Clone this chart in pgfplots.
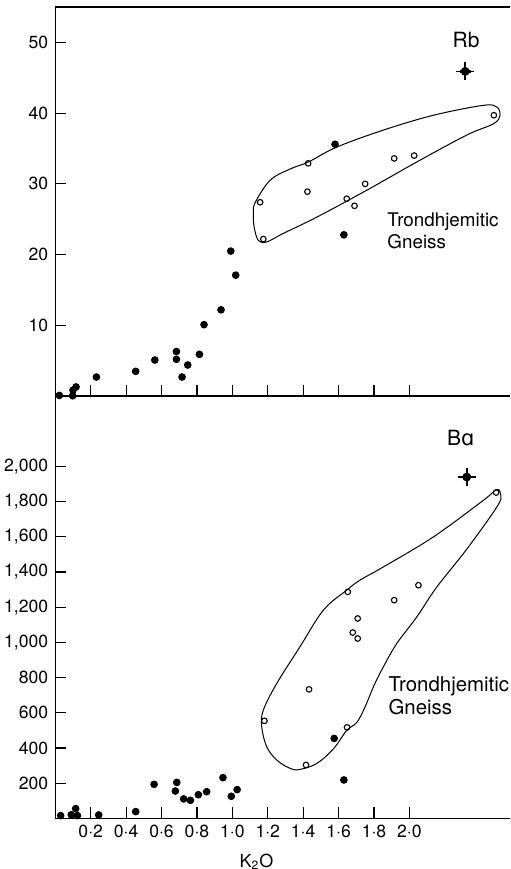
\documentclass[border=0pt]{standalone}
\usepackage{fontspec}
\setmainfont{TeX Gyre Heros}
\newfontfamily\dejavu{DejaVu Sans}
\usepackage{pgfplots}
\pgfplotsset{compat=1.18}

\pgfplotsset{
  panel/.style={
    scale only axis, width=227.5pt,
    xmin=0, xmax=2.571,
    axis x line*=bottom, axis y line*=left,
    axis line style={-, line width=0.65pt},
    tick align=inside, major tick length=5.5pt,
    tick style={line width=0.6pt, black},
    xtick={0.2,0.4,0.6,0.8,1.0,1.2,1.4,1.6,1.8,2.0},
    clip=false,
    tick label style={font=\fontsize{8.8}{10}\selectfont},
    /pgf/number format/assume math mode=true,
  },
  filled/.style={only marks, mark=*, mark size=1.7pt, black, mark options={fill=black}},
  open/.style={only marks, mark=o, mark size=1.4pt, black, mark options={line width=0.55pt}},
  envelope/.style={smooth cycle, no marks, line width=0.5pt, black, tension=0.6},
  errcross/.style={black, only marks, mark=none,
    error bars/.cd, x dir=both, x explicit, y dir=both, y explicit,
    error bar style={line width=1.2pt},
    error mark options={line width=0.8pt, mark size=1.7pt}},
}

\begin{document}
\begin{tikzpicture}
% ---- Rb panel
\begin{axis}[panel, name=rb, height=194.5pt,
  ymin=0, ymax=55, ytick={10,20,30,40,50}, xticklabels={}]
\draw[line width=0.65pt] (rel axis cs:0,1) -- (rel axis cs:1,1);

\addplot[filled] coordinates {
  (0.023,0.1)(0.098,0.05)(0.10,0.85)(0.117,1.3)(0.232,2.7)(0.454,3.5)
  (0.562,5.1)(0.684,6.3)(0.684,5.2)(0.716,2.7)(0.748,4.4)(0.814,5.9)
  (0.84,10.1)(0.936,12.2)(0.991,20.5)(1.019,17.1)(1.58,35.6)(1.63,22.8)
};
\addplot[open] coordinates {
  (1.157,27.4)(1.175,22.2)(1.428,32.9)(1.424,28.9)(1.646,27.9)
  (1.69,26.9)(1.75,30.0)(1.914,33.6)(2.027,34.0)(2.477,39.7)
};
\addplot[envelope] coordinates {
  (1.128,27.3)(1.213,30.5)(1.326,32.1)(1.43,33.1)(1.59,35.2)(1.853,37.6)
  (2.136,39.7)(2.418,41.1)(2.494,40.85)(2.512,39.7)(2.475,38.5)(2.324,36.9)
  (2.042,33.1)(1.759,29.1)(1.477,25.3)(1.288,23.0)(1.194,21.8)(1.147,22.0)
  (1.123,23.9)(1.119,25.8)
};
\addplot[errcross] coordinates {(2.315,45.9) +- (0.031,0.78)};

\node[font=\fontsize{10.5}{12}\selectfont] at (axis cs:2.32,50.3) {Rb};
\node[anchor=west, align=left, inner sep=0pt, font=\fontsize{9.4}{11}\selectfont]
  at (axis cs:1.874,23.3) {Trondhjemitic\\Gneiss};
\end{axis}

% ---- Ba panel
\begin{axis}[panel, name=ba, at={(rb.south west)}, anchor=north west,
  height=211pt, ymin=0, ymax=2400,
  ytick={200,400,600,800,1000,1200,1400,1600,1800,2000},
  yticklabels={200,400,600,800,{1,000},{1,200},{1,400},{1,600},{1,800},{2,000}},
  xticklabels={0·2,0·4,0·6,0·8,1·0,1·2,1·4,1·6,1·8,2·0},
  xlabel={K\textsubscript{2}O},
  xlabel style={at={(axis description cs:0.442,0)}, anchor=north,
    inner sep=0pt, yshift=-17.5pt, font=\fontsize{9}{10}\selectfont},
]
\addplot[filled] coordinates {
  (0.03,15)(0.09,20)(0.115,55)(0.125,15)(0.245,19)(0.454,38)(0.558,193)
  (0.686,204)(0.678,155)(0.725,110)(0.763,102)(0.808,134)(0.855,151)
  (0.947,231)(0.994,125)(1.027,163)(1.575,454)(1.63,218)
};
\addplot[open] coordinates {
  (1.181,554)(1.416,303)(1.433,733)(1.648,517)(1.652,1287)(1.68,1056)
  (1.708,1022)(1.708,1136)(1.914,1240)(2.051,1325)(2.49,1852)
};
\addplot[envelope] coordinates {
  (1.166,520)(1.175,615)(1.251,767)(1.382,975)(1.514,1183)(1.646,1297)
  (1.721,1354)(1.853,1429)(2.136,1600)(2.418,1808)(2.494,1869)(2.516,1836)
  (2.494,1770)(2.324,1530)(2.155,1315)(2.042,1145)(1.929,994)(1.853,861)
  (1.797,748)(1.750,634)(1.703,545)(1.646,500)(1.571,395)(1.477,312)
  (1.382,278)(1.326,284)(1.251,331)(1.194,407)
};
\addplot[errcross] coordinates {(2.324,1940) +- (0.031,31)};

\node[font=\fontsize{10.5}{12}\selectfont] at (axis cs:2.29,2160) {B{\dejavu ɑ}};
\node[anchor=west, align=left, inner sep=0pt, font=\fontsize{10.2}{11.5}\selectfont]
  at (axis cs:1.88,697) {Trondhjemitic\\Gneiss};
\end{axis}

\pgfresetboundingbox
\path ([shift={(-27.65pt,3.5pt)}]rb.north west) rectangle ([shift={(0pt,-25.35pt)}]ba.south east);
\end{tikzpicture}
\end{document}
